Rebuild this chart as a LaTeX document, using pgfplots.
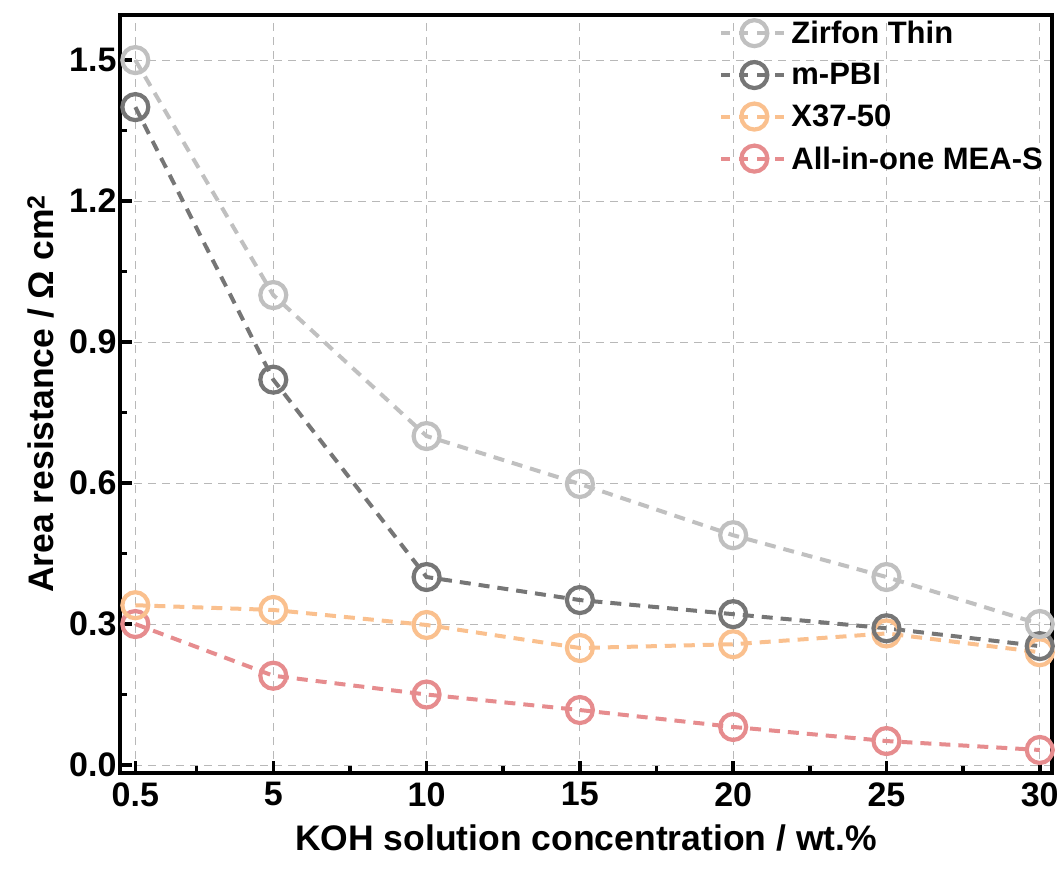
\documentclass[border=0pt]{standalone}
\usepackage{pgfplots}
\pgfplotsset{compat=1.18}
\usepackage{fontspec}
\setmainfont{Liberation Sans}
\definecolor{czir}{RGB}{192,192,192}
\definecolor{cpbi}{RGB}{118,118,118}
\definecolor{cx37}{RGB}{250,192,142}
\definecolor{cmea}{RGB}{230,140,142}
\begin{document}
\begin{tikzpicture}
\begin{axis}[
  name=ax,
  scale only axis,
  width=932pt, height=758pt,
  xmin=0, xmax=30.4,
  ymin=-0.017, ymax=1.596,
  xtick={0.5,5,10,15,20,25,30},
  xticklabels={0.5,5,10,15,20,25,30},
  minor xtick={2.5,7.5,12.5,17.5,22.5,27.5},
  ytick={0,0.3,0.6,0.9,1.2,1.5},
  yticklabels={0.0,0.3,0.6,0.9,1.2,1.5},
  minor ytick={0.15,0.45,0.75,1.05,1.35},
  tick pos=left,
  tick align=inside,
  major tick length=12pt,
  minor tick length=7pt,
  every tick/.style={black, line width=3.5pt},
  axis line style={line width=4pt},
  grid=major,
  major grid style={draw=black!28, line width=1pt, dash pattern=on 8pt off 6pt},
  ticklabel style={font=\fontsize{34}{40}\selectfont\bfseries},
  xticklabel style={yshift=-6pt},
  /pgf/number format/assume math mode=true,
  xlabel={KOH solution concentration / wt.\%},
  ylabel={Area resistance / Ω cm\textsuperscript{2}},
  label style={font=\fontsize{35.5}{42}\selectfont\bfseries},
  xlabel style={yshift=-11pt},
  ylabel style={yshift=8pt},
  clip=false,
  every axis plot/.append style={line width=4pt, dash pattern=on 11pt off 8pt, mark=o, mark size=13pt,
     mark options={solid, fill=white, line width=4.2pt}},
  legend style={at={(rel axis cs:1,1)}, anchor=north east, draw=none, fill=none,
     font=\fontsize{31}{36}\selectfont\bfseries, row sep=14.5pt, xshift=-4pt, yshift=-2pt},
  legend cell align=left,
  reverse legend,
  legend image code/.code={\draw[#1, dash pattern=on 9pt off 9pt] (0pt,0pt) -- (66pt,0pt);
     \draw[#1, mark repeat=1] plot coordinates {(33pt,0pt)};},
]
\addplot[color=cmea] coordinates {(0.5,0.30) (5,0.19) (10,0.15) (15,0.117) (20,0.081) (25,0.051) (30,0.032)};
\addlegendentry{All-in-one MEA-S}
\addplot[color=cx37] coordinates {(0.5,0.34) (5,0.33) (10,0.298) (15,0.249) (20,0.257) (25,0.28) (30,0.24)};
\addlegendentry{X37-50}
\addplot[color=cpbi] coordinates {(0.5,1.40) (5,0.82) (10,0.40) (15,0.351) (20,0.321) (25,0.291) (30,0.253)};
\addlegendentry{m-PBI}
\addplot[color=czir] coordinates {(0.5,1.50) (5,1.00) (10,0.70) (15,0.598) (20,0.489) (25,0.40) (30,0.30)};
\addlegendentry{Zirfon Thin}
\end{axis}
\path (ax.south west) ++(-120pt,-97pt) coordinate (bl);
\path (ax.north east) ++(10pt,15pt) coordinate (tr);
\useasboundingbox (bl) rectangle (tr);
\end{tikzpicture}
\end{document}
